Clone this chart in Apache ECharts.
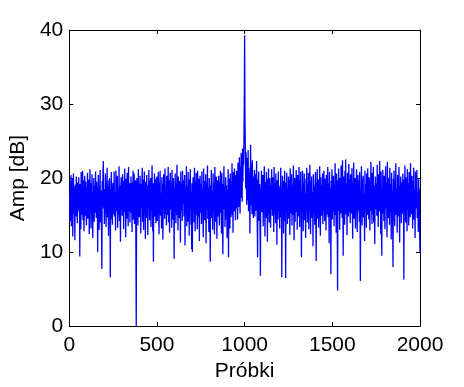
<!DOCTYPE html>
<html>
<head>
<meta charset="utf-8">
<script src="https://cdn.jsdelivr.net/npm/echarts@6/dist/echarts.min.js"></script>
<style>
  html, body { margin: 0; padding: 0; background: #fff; }
  #chart { width: 464px; height: 387px; }
</style>
</head>
<body>
<div id="chart"></div>
<script>
// probki co 2 (2, 4, ... 2000), wartosci
const sampleStep = 2;
const xTicks = [0, 500, 1000, 1500, 2000];
const yTicks = [0, 10, 20, 30, 40];
const ampDb = [
  // 2 - 50
  17.8, 14.2, 19.6, 16.1, 20.4, 13.5, 18.3, 15.7, 19.9, 12.1, 17.0, 20.6, 15.2, 18.8, 16.4, 11.6, 19.1, 17.5, 14.8, 20.2, 16.9, 18.6, 13.9, 19.4, 15.8,
  // 52 - 100
  17.3, 20.1, 15.4, 18.7, 9.4, 19.2, 16.6, 13.1, 20.8, 17.9, 15.0, 18.4, 21.0, 14.3, 17.6, 19.7, 12.8, 16.2, 20.3, 18.1, 14.9, 19.5, 16.8, 13.6, 18.9,
  // 102 - 150
  16.3, 20.7, 14.5, 18.2, 17.1, 19.8, 12.4, 16.7, 21.2, 15.6, 18.5, 13.2, 19.3, 17.4, 20.5, 15.1, 11.9, 18.0, 16.5, 20.0, 14.1, 19.0, 17.7, 15.3, 20.9,
  // 152 - 200
  17.2, 14.6, 19.5, 16.0, 18.8, 10.0, 17.9, 20.4, 15.5, 13.0, 19.0, 16.4, 21.1, 14.0, 18.3, 17.0, 12.6, 7.7, 19.6, 16.2, 20.2, 22.3, 15.9, 18.5, 13.8,
  // 202 - 250
  18.1, 15.2, 20.6, 16.9, 13.4, 19.2, 17.5, 21.4, 14.7, 18.9, 16.3, 12.2, 19.7, 15.8, 20.0, 17.3, 6.6, 18.4, 14.4, 20.8, 16.6, 19.3, 13.7, 17.8, 15.1,
  // 252 - 300
  19.4, 16.0, 20.9, 14.8, 18.0, 17.2, 12.9, 21.0, 15.5, 19.1, 16.7, 20.3, 13.3, 18.6, 17.4, 15.0, 21.6, 14.2, 19.0, 16.5, 11.4, 18.2, 20.1, 15.7, 17.6,
  // 302 - 350
  14.9, 20.5, 17.0, 18.7, 13.1, 19.6, 16.3, 21.3, 15.4, 18.1, 12.0, 19.9, 17.1, 14.5, 20.7, 16.1, 18.9, 13.5, 21.5, 15.6, 17.7, 19.3, 14.0, 18.4, 16.8,
  // 352 - 400
  20.2, 15.3, 18.5, 12.7, 19.4, 16.9, 21.0, 14.4, 17.8, 20.6, 13.8, 18.0, 16.2, 19.7, 11.1, 0.0, 17.4, 20.0, 15.0, 18.8, 13.6, 21.2, 16.4, 19.1, 14.7,
  // 402 - 450
  17.5, 20.3, 15.8, 12.5, 19.2, 16.0, 18.6, 21.4, 14.1, 17.9, 19.8, 13.0, 16.7, 20.9, 15.2, 18.3, 11.8, 19.5, 17.2, 14.6, 20.4, 16.5, 18.1, 12.3, 19.0,
  // 452 - 500
  15.9, 21.1, 17.0, 14.3, 19.6, 16.8, 20.0, 13.4, 18.2, 15.5, 21.7, 17.3, 12.8, 19.3, 8.7, 18.7, 16.1, 20.6, 14.8, 17.6, 19.9, 13.9, 18.4, 16.6, 20.2,
  // 502 - 550
  14.2, 18.9, 17.1, 20.8, 15.3, 12.4, 19.5, 16.4, 21.0, 14.9, 18.0, 17.7, 13.2, 20.1, 15.7, 19.2, 11.7, 17.4, 20.5, 16.0, 18.8, 14.5, 21.3, 15.1, 19.0,
  // 552 - 600
  17.9, 13.6, 20.3, 16.2, 18.5, 15.0, 21.5, 14.0, 19.7, 17.2, 12.6, 18.3, 20.7, 15.8, 17.0, 19.4, 13.3, 21.1, 16.7, 18.1, 14.4, 20.0, 16.9, 9.1, 18.6,
  // 602 - 650
  15.4, 20.6, 17.5, 13.9, 19.1, 16.3, 21.8, 15.0, 18.2, 12.9, 20.2, 17.3, 14.6, 19.6, 16.0, 18.7, 11.3, 20.9, 15.6, 17.8, 19.3, 14.2, 21.0, 16.5, 18.0,
  // 652 - 700
  19.7, 14.8, 17.2, 20.4, 10.9, 16.6, 18.9, 15.2, 21.6, 13.5, 19.0, 17.0, 14.1, 20.8, 16.3, 18.4, 12.2, 19.8, 15.9, 21.2, 17.6, 13.7, 18.1, 10.4, 19.3,
  // 702 - 750
  10.0, 16.9, 20.1, 15.5, 18.6, 14.0, 21.4, 17.1, 12.8, 19.5, 16.2, 20.7, 15.0, 18.3, 13.1, 21.0, 17.4, 14.7, 19.9, 16.4, 11.5, 18.8, 20.3, 15.3, 17.7,
  // 752 - 800
  19.2, 13.8, 20.9, 16.0, 18.5, 15.1, 12.0, 21.3, 17.0, 19.6, 14.3, 18.1, 16.6, 20.5, 11.2, 17.9, 19.4, 15.7, 21.7, 14.5, 18.7, 16.8, 12.7, 20.0, 17.3,
  // 802 - 850
  15.9, 8.7, 19.0, 16.4, 21.1, 14.6, 18.2, 17.5, 13.0, 20.6, 15.4, 19.3, 16.9, 12.4, 21.5, 17.8, 14.1, 18.6, 20.2, 15.6, 11.8, 19.7, 16.2, 18.4, 14.8,
  // 852 - 900
  20.3, 17.1, 13.6, 19.5, 16.0, 21.0, 15.3, 18.0, 12.5, 20.7, 17.6, 14.9, 9.7, 19.2, 16.7, 21.6, 15.8, 18.8, 13.4, 17.3, 20.1, 14.4, 19.0, 16.5, 11.9,
  // 902 - 950
  18.5, 15.7, 21.2, 9.3, 17.8, 19.9, 16.3, 13.2, 20.6, 17.0, 14.7, 19.4, 16.1, 22.0, 15.0, 18.2, 12.6, 20.8, 17.4, 15.5, 21.3, 16.8, 19.1, 14.3, 20.4,
  // 952 - 1000 (narastanie do piku)
  17.2, 21.0, 15.9, 19.7, 14.4, 22.1, 17.6, 20.3, 16.1, 22.8, 18.4, 15.2, 21.5, 19.0, 23.4, 17.3, 22.0, 16.8, 24.0, 19.5, 23.1, 21.8, 24.6, 30.0, 39.3,
  // 1002 - 1050
  27.8, 24.2, 18.6, 23.5, 20.1, 16.4, 22.7, 19.3, 17.0, 23.8, 15.5, 21.4, 18.2, 20.6, 12.5, 17.8, 24.5, 16.3, 21.9, 19.0, 15.1, 22.4, 17.5, 20.2, 14.6,
  // 1052 - 1100
  19.6, 16.0, 21.1, 14.8, 18.7, 17.4, 20.5, 15.6, 22.3, 18.0, 13.7, 9.3, 19.8, 16.5, 20.9, 14.2, 17.7, 19.2, 12.9, 6.8, 18.5, 16.1, 21.0, 15.4, 19.4,
  // 1102 - 1150
  17.0, 20.4, 13.5, 18.8, 15.9, 21.6, 16.7, 12.1, 19.5, 17.3, 14.6, 20.8, 16.2, 18.4, 11.4, 19.9, 15.2, 21.3, 17.9, 14.0, 18.6, 20.0, 16.4, 13.3, 19.1,
  // 1152 - 1200
  15.8, 21.2, 17.4, 14.9, 20.1, 16.6, 18.9, 12.7, 21.5, 15.1, 19.3, 17.1, 13.9, 20.6, 16.0, 18.2, 11.0, 19.7, 17.6, 14.4, 20.9, 15.5, 18.7, 16.9, 13.2,
  // 1202 - 1250
  19.0, 16.3, 21.4, 14.7, 18.1, 6.6, 17.5, 20.3, 15.9, 19.6, 12.5, 18.8, 16.1, 21.0, 14.2, 17.7, 6.5, 19.4, 15.6, 20.7, 17.2, 13.8, 18.5, 16.6, 20.2,
  // 1252 - 1300
  14.5, 19.8, 17.0, 12.3, 21.3, 16.4, 18.6, 15.2, 20.5, 13.6, 19.1, 17.8, 15.0, 21.7, 16.8, 11.6, 18.3, 20.0, 14.1, 19.5, 16.2, 21.1, 15.4, 17.9, 13.0,
  // 1302 - 1350
  20.4, 16.9, 18.7, 14.8, 21.5, 17.3, 13.4, 19.7, 15.7, 20.9, 16.1, 9.3, 18.2, 15.3, 21.0, 17.6, 12.8, 19.3, 16.5, 20.6, 14.3, 18.0, 17.2, 11.9, 19.9,
  // 1352 - 1400
  15.6, 21.4, 17.1, 14.0, 19.2, 16.7, 20.7, 13.1, 18.5, 15.9, 21.8, 17.4, 12.4, 19.6, 16.3, 20.2, 14.6, 18.1, 17.0, 10.8, 20.5, 15.3, 19.0, 16.8, 13.7,
  // 1402 - 1450
  18.9, 20.8, 15.0, 8.8, 19.4, 16.2, 21.2, 14.5, 17.7, 19.8, 13.3, 18.3, 16.6, 21.6, 15.4, 12.2, 20.1, 17.3, 14.9, 19.0, 16.0, 20.6, 13.8, 18.4, 15.7,
  // 1452 - 1500
  21.0, 17.2, 14.2, 19.9, 16.5, 18.7, 12.9, 20.4, 15.1, 18.0, 17.5, 21.5, 14.7, 19.3, 16.0, 11.2, 20.8, 15.8, 18.6, 17.0, 7.0, 19.6, 16.3, 21.2, 14.4,
  // 1502 - 1550
  18.2, 15.5, 20.3, 17.7, 13.5, 19.1, 16.6, 22.0, 15.0, 18.8, 12.6, 20.6, 17.1, 14.3, 4.8, 19.7, 16.2, 21.3, 15.6, 18.4, 13.0, 20.0, 17.4, 15.2, 21.7,
  // 1552 - 1600
  16.8, 19.5, 14.6, 22.4, 17.9, 9.5, 20.2, 15.9, 18.5, 13.7, 21.0, 16.4, 22.5, 15.1, 19.3, 17.2, 12.3, 20.7, 16.0, 18.9, 14.8, 21.9, 17.6, 15.4, 19.8,
  // 1602 - 1650
  13.9, 20.5, 16.7, 18.3, 15.2, 21.4, 17.0, 11.8, 19.4, 16.1, 22.1, 14.5, 18.7, 17.3, 20.0, 13.2, 19.1, 15.8, 21.2, 16.9, 12.7, 18.6, 20.4, 15.5, 17.8,
  // 1652 - 1700
  19.7, 14.1, 20.8, 16.4, 6.1, 18.2, 15.3, 21.6, 17.5, 13.6, 19.9, 16.2, 20.3, 14.7, 18.0, 17.1, 11.5, 21.0, 15.7, 19.2, 16.8, 13.3, 20.6, 17.4, 15.0,
  // 1702 - 1750
  21.3, 16.5, 18.9, 14.4, 20.1, 17.7, 12.9, 19.5, 15.6, 22.2, 16.9, 18.1, 13.8, 20.7, 17.2, 15.1, 21.5, 14.0, 19.0, 16.3, 11.1, 18.5, 20.2, 15.8, 17.6,
  // 1752 - 1800
  19.3, 14.9, 21.8, 16.0, 18.4, 13.4, 20.5, 17.0, 15.5, 22.3, 16.7, 19.0, 12.4, 20.9, 17.8, 9.5, 18.6, 15.2, 21.1, 16.4, 19.7, 14.2, 20.3, 17.3, 13.1,
  // 1802 - 1850
  18.0, 21.6, 15.9, 19.4, 16.6, 12.0, 22.2, 17.1, 14.6, 20.0, 16.2, 18.8, 13.7, 21.4, 15.3, 19.2, 17.5, 11.7, 20.7, 16.8, 18.3, 14.5, 8.0, 19.9, 15.7,
  // 1852 - 1900
  21.0, 17.2, 13.5, 19.6, 16.1, 22.0, 15.0, 18.5, 17.7, 12.6, 20.4, 16.4, 19.1, 14.8, 21.5, 17.0, 11.3, 18.9, 15.6, 20.2, 16.9, 13.9, 19.5, 17.4, 15.2,
  // 1902 - 1950
  20.6, 16.3, 18.7, 6.3, 19.8, 15.4, 21.7, 17.6, 14.0, 20.1, 16.7, 18.2, 12.8, 21.2, 15.8, 19.3, 17.1, 13.6, 20.8, 16.0, 18.9, 14.7, 22.0, 16.5, 19.0,
  // 1952 - 2000
  15.1, 20.3, 17.3, 13.2, 19.6, 16.8, 21.4, 14.4, 18.4, 17.0, 11.9, 20.9, 15.9, 19.2, 16.2, 21.1, 14.6, 18.1, 17.7, 12.7, 20.0, 15.3, 18.6, 13.0, 10.0
];

const seriesData = ampDb.map((v, i) => [(i + 1) * sampleStep, v]);

const font = 'Liberation Sans, Arial, sans-serif';
const axisCommon = {
  type: 'value',
  axisLine: { show: true, onZero: false, lineStyle: { color: '#000', width: 1 } },
  axisTick: { show: true, inside: true, length: 4, lineStyle: { color: '#000' } },
  splitLine: { show: false }
};
const plainNum = (v) => String(v);

let myChart = echarts.init(document.getElementById('chart'));
myChart.setOption({
  animation: false,
  backgroundColor: '#fff',
  grid: { left: 68, top: 30, width: 352, height: 297, containLabel: false },
  xAxis: [
    Object.assign({}, axisCommon, {
      min: xTicks[0], max: xTicks[xTicks.length - 1], interval: 500,
      position: 'bottom',
      name: 'Próbki', nameLocation: 'middle', nameGap: 34,
      nameTextStyle: { fontFamily: font, fontSize: 21, color: '#000' },
      axisLabel: { fontFamily: font, fontSize: 21, color: '#000', margin: 9, formatter: plainNum }
    }),
    Object.assign({}, axisCommon, {
      min: xTicks[0], max: xTicks[xTicks.length - 1], interval: 500,
      position: 'top', axisLabel: { show: false }
    })
  ],
  yAxis: [
    Object.assign({}, axisCommon, {
      min: yTicks[0], max: yTicks[yTicks.length - 1], interval: 10,
      position: 'left',
      name: 'Amp [dB]', nameLocation: 'middle', nameGap: 36,
      nameTextStyle: { fontFamily: font, fontSize: 21, color: '#000' },
      axisLabel: { fontFamily: font, fontSize: 21, color: '#000', margin: 6, formatter: plainNum }
    }),
    Object.assign({}, axisCommon, {
      min: yTicks[0], max: yTicks[yTicks.length - 1], interval: 10,
      position: 'right', axisLabel: { show: false }
    })
  ],
  series: [
    {
      type: 'line',
      data: seriesData,
      showSymbol: false,
      symbol: 'none',
      clip: true,
      lineStyle: { color: '#0000ff', width: 1.3 }
    }
  ]
});
</script>
</body>
</html>
